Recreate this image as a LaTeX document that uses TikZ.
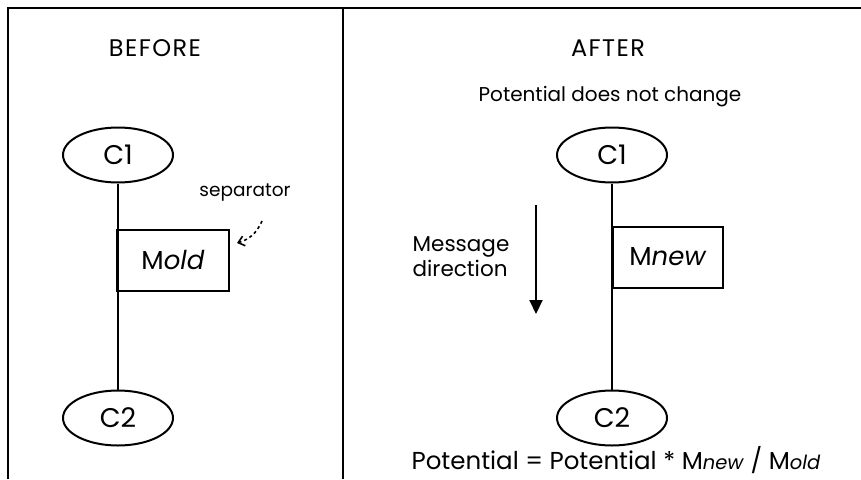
\documentclass[tikz,border=0pt]{standalone}
\usepackage{fontspec}
\setmainfont{Poppins}
\usetikzlibrary{arrows.meta,shapes.geometric,positioning}

\begin{document}
\begin{tikzpicture}[x=1pt,y=-1pt,line width=2pt,font=\fontsize{20}{24}\selectfont]
  \tikzstyle{clique}=[ellipse,draw=black,minimum width=110pt,minimum height=55pt,inner sep=0pt,font=\fontsize{27}{30}\selectfont]
  \tikzstyle{sepset}=[rectangle,draw=black,minimum width=112pt,minimum height=61pt,inner sep=0pt,anchor=west,font=\fontsize{26}{30}\selectfont]
  \tikzstyle{note}=[font=\fontsize{21.5}{25}\selectfont]
  \tikzstyle{heading}=[font=\fontsize{24}{28}\selectfont\addfontfeature{LetterSpace=6}]

  \useasboundingbox (0,0) rectangle (861,479);
  % frame
  \draw (8,479) -- (8,8) -- (861,8);
  \draw (343,8) -- (343,479);

  \node[heading] (before) at (155,48) {BEFORE};
  \node[heading] (after)  at (608,48) {AFTER};
  \node (nochange) at (610,97) {Potential does not change};

  % before
  \node[clique] (C1a) at (118,155) {C1};
  \node[clique] (C2a) at (118,418) {C2};
  \node[sepset] (Mold) at (116,260) {M\textit{old}\hspace{6pt}};
  \draw (C1a) -- (C2a);
  \node[font=\fontsize{18.5}{22}\selectfont] (sep) at (245,193) {separator};
  \draw[dashed,line width=1.6pt,-{Straight Barb[length=6pt,width=10pt]}] (262,221) to[bend left=25] (237,243);

  % after
  \node[clique] (C1b) at (612,155) {C1};
  \node[clique] (C2b) at (612,418) {C2};
  \node[sepset,minimum width=110pt,minimum height=61pt] (Mnew) at (612,257) {M\textit{new}};
  \draw (C1b) -- (C2b);
  \node[note,align=left] (dir) at (461,257) {Message\\direction};
  \coordinate (dtop) at (536,205);
  \coordinate (dbot) at (536,314);
  \draw[-{Triangle[length=14pt,width=13pt]}] (dtop) -- (dbot);

  \node[font=\fontsize{24.5}{28}\selectfont,inner sep=1pt] (update) at (616,460) {Potential = Potential * M{\fontsize{19.5}{22}\selectfont\textit{new}} / M{\fontsize{19.5}{22}\selectfont\textit{old}}};
\end{tikzpicture}
\end{document}
